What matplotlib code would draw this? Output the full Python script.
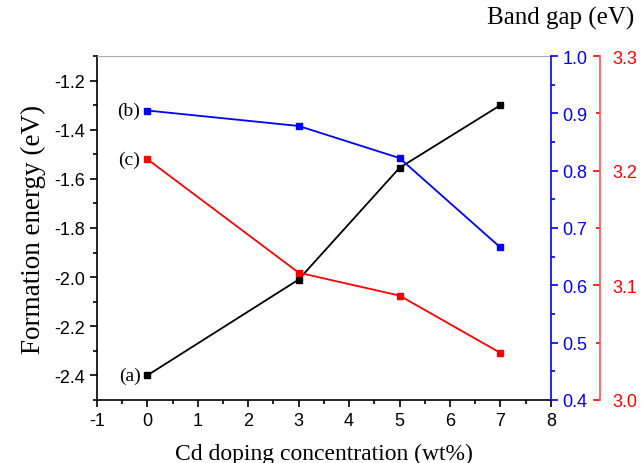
import matplotlib
matplotlib.use('Agg')
from matplotlib import pyplot as plt
from matplotlib.ticker import MultipleLocator

plt.rcParams['axes.unicode_minus'] = False

# data
cd_conc = [0, 3, 5, 7]
formation_energy = [-2.40, -2.01, -1.555, -1.30]
band_gap_b = [0.905, 0.878, 0.822, 0.666]
band_gap_c = [3.21, 3.111, 3.091, 3.041]

serif = ['Liberation Serif', 'DejaVu Serif']
sans = ['Liberation Sans', 'DejaVu Sans']

fig = plt.figure(figsize=(6.42, 4.64), dpi=100)
ax = fig.add_axes([0.151, 0.136, 0.707, 0.741])

ax.plot(cd_conc, formation_energy, color='black', marker='s', markersize=5, lw=1.3)
ax.set_xlim(-1, 8)
ax.set_ylim(-2.5, -1.1)
ax.xaxis.set_major_locator(MultipleLocator(1))
ax.xaxis.set_minor_locator(MultipleLocator(0.5))
ax.yaxis.set_minor_locator(MultipleLocator(0.1))
ax.set_yticks([-2.4, -2.2, -2.0, -1.8, -1.6, -1.4, -1.2])
ax.tick_params(which='both', direction='out', labelsize=13, width=1.2)
ax.tick_params(which='major', length=5)
ax.tick_params(which='minor', length=3)
for lab in ax.get_xticklabels() + ax.get_yticklabels():
    lab.set_family(sans)
ax.spines['top'].set_color('#aaaaaa')
ax.spines['top'].set_linewidth(0.8)
ax.spines['right'].set_visible(False)
ax.spines['left'].set_linewidth(1.2)
ax.spines['bottom'].set_linewidth(1.2)
ax.set_xlabel('Cd doping concentration (wt%)', family=serif, fontsize=17, labelpad=10)
ax.set_ylabel('Formation energy (eV)', family=serif, fontsize=19.5, labelpad=6)

# blue band gap axis
ax2 = ax.twinx()
ax2.plot(cd_conc, band_gap_b, color='blue', marker='s', markersize=5, lw=1.3)
ax2.set_ylim(0.4, 1.0)
ax2.yaxis.set_major_locator(MultipleLocator(0.1))
ax2.yaxis.set_minor_locator(MultipleLocator(0.05))
ax2.tick_params(which='both', direction='out', colors='blue', labelsize=13, width=1.2)
ax2.tick_params(which='major', length=5)
ax2.tick_params(which='minor', length=3)
for lab in ax2.get_yticklabels():
    lab.set_family(sans)
for s in ['top', 'left', 'bottom']:
    ax2.spines[s].set_visible(False)
ax2.spines['right'].set_color('blue')
ax2.spines['right'].set_linewidth(1.2)

# red band gap axis
ax3 = ax.twinx()
ax3.plot(cd_conc, band_gap_c, color='red', marker='s', markersize=5, lw=1.3)
ax3.set_ylim(3.0, 3.3)
ax3.spines['right'].set_position(('axes', 1.108))
ax3.yaxis.set_major_locator(MultipleLocator(0.1))
ax3.yaxis.set_minor_locator(MultipleLocator(0.05))
ax3.tick_params(which='both', direction='in', colors='red', labelsize=13, width=1.2, pad=9)
ax3.tick_params(which='major', length=5)
ax3.tick_params(which='minor', length=3)
for lab in ax3.get_yticklabels():
    lab.set_family(sans)
for s in ['top', 'left', 'bottom']:
    ax3.spines[s].set_visible(False)
ax3.spines['right'].set_color('#ff5050')
ax3.spines['right'].set_linewidth(1.2)

fig.text(0.874, 0.96, 'Band gap (eV)', family=serif, fontsize=18, ha='center', va='center')

ax.annotate('(a)', (cd_conc[0], formation_energy[0]), xytext=(-5, 0), textcoords='offset points',
            ha='right', va='center', family=serif, fontsize=14)
ax2.annotate('(b)', (cd_conc[0], band_gap_b[0]), xytext=(-5, 0), textcoords='offset points',
             ha='right', va='center', family=serif, fontsize=14)
ax3.annotate('(c)', (cd_conc[0], band_gap_c[0]), xytext=(-5, 0), textcoords='offset points',
             ha='right', va='center', family=serif, fontsize=14)

fig.savefig('out.png', dpi=100)
